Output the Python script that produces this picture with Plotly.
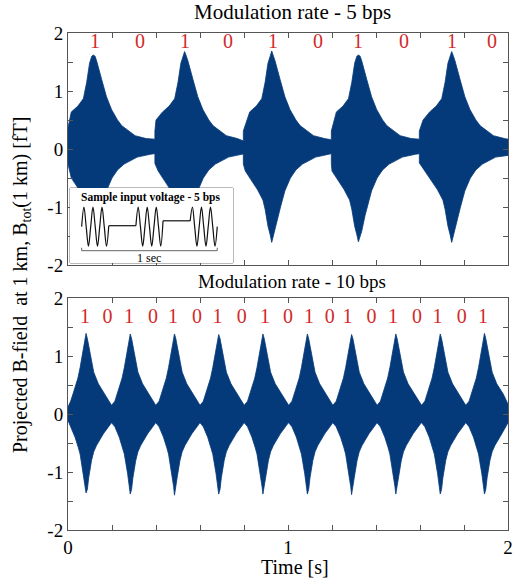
import plotly.graph_objects as go

BLUE = "#053a7a"
RED = "#d42a2a"
FONT = "Liberation Serif"

# ---------------- Top panel (5 bps) : envelope ----------------
TOP_START = [0.0, 0.395, 0.797, 1.197, 1.597]          # abrupt start of each "1" pulse
TOP_PEAK_T = [0.115, 0.530, 0.926, 1.320, 1.744]
TOP_PEAK_UP = [1.62, 1.68, 1.69, 1.62, 1.68]
TOP_PEAK_LO = [-1.60, -1.60, -1.61, -1.60, -1.61]
TOP_START_UP = [0.37, 0.31, 0.31, 0.31, 0.31]
TOP_START_LO = [-0.26, -0.25, -0.26, -0.25, -0.24]
TOP_TAIL_UP = [0.17, 0.14, 0.16, 0.17, 0.17]
TOP_TAIL_LO = [-0.08, -0.09, -0.08, -0.08, -0.11]
TOP_UP_OFF = [-0.13, -0.10, -0.07, -0.045, -0.03, -0.017, -0.007, 0.0, 0.008, 0.015,
              0.038, 0.06, 0.083, 0.11, 0.13, 0.19, 0.24]
TOP_UP_VAL = [0.50, 0.64, 0.74, 0.87, 1.15, 1.48, 1.60, None, 1.60, 1.52,
              1.20, 0.90, 0.68, 0.50, 0.40, 0.23, 0.18]
TOP_LO_OFF = [-0.12, -0.10, -0.065, -0.04, -0.03, -0.017, -0.007, 0.0, 0.008, 0.015,
              0.03, 0.04, 0.06, 0.085, 0.11, 0.14, 0.20, 0.26]
TOP_LO_VAL = [-0.38, -0.50, -0.70, -0.88, -1.04, -1.33, -1.48, None, -1.52, -1.42,
              -1.15, -1.00, -0.72, -0.50, -0.36, -0.26, -0.14, -0.09]
TOP_BITS_T = [0.123, 0.327, 0.532, 0.727, 0.932, 1.136, 1.318, 1.527, 1.745, 1.927]
TOP_BITS = ["1", "0", "1", "0", "1", "0", "1", "0", "1", "0"]

# ---------------- Bottom panel (10 bps) ----------------
BOT_PEAK_T = [0.082, 0.283, 0.484, 0.685, 0.886, 1.088, 1.289, 1.490, 1.692, 1.893]
BOT_PEAK_UP = [1.39, 1.38, 1.38, 1.37, 1.38, 1.38, 1.37, 1.38, 1.38, 1.39]
BOT_PEAK_LO = [-1.36, -1.38, -1.40, -1.38, -1.38, -1.38, -1.39, -1.38, -1.38, -1.38]
BOT_UP_OFF = [-0.085, -0.07, -0.058, -0.048, -0.037, -0.027, -0.018, -0.010, -0.004, 0.0,
              0.006, 0.015, 0.025, 0.035, 0.056, 0.086, 0.114]
BOT_UP_VAL = [0.15, 0.22, 0.36, 0.48, 0.62, 0.80, 1.00, 1.20, 1.33, None,
              1.30, 1.12, 0.88, 0.72, 0.52, 0.34, 0.16]
BOT_LO_OFF = [-0.085, -0.07, -0.05, -0.035, -0.027, -0.012, -0.004, 0.0,
              0.006, 0.012, 0.025, 0.035, 0.048, 0.079, 0.114]
BOT_LO_VAL = [-0.15, -0.22, -0.40, -0.58, -0.69, -1.03, -1.25, None,
              -1.30, -1.10, -0.80, -0.65, -0.54, -0.34, -0.16]
BOT_T0_UP, BOT_T0_LO = 0.12, -0.11
BOT_END_UP, BOT_END_LO = 0.17, -0.15
BOT_BITS_T = [0.077, 0.180, 0.277, 0.386, 0.477, 0.586, 0.680, 0.790, 0.895, 1.000,
              1.095, 1.190, 1.270, 1.380, 1.477, 1.586, 1.680, 1.790, 1.886]
BOT_BITS = ["1", "0"] * 9 + ["1"]

# ---------------- Inset: sample input voltage ----------------
INSET_BITS = [1, 0, 1, 0, 1]            # 0.2 s per bit
INSET_FLAT = [None, 0.05, None, 0.3, None]
INSET_CYCLE = [0, 1, 0, -1, 0, 1, 0, -1, 0, 1, 0, -1, 0]   # 3 carrier cycles per bit
BIT_LEN = 0.2

X_TICKS = [0, 0.2, 0.4, 0.6, 0.8, 1.0, 1.2, 1.4, 1.6, 1.8, 2.0]
X_TICKTEXT = ["0", "", "", "", "", "1", "", "", "", "", "2"]
Y_TICKS = [-2, -1.5, -1, -0.5, 0, 0.5, 1, 1.5, 2]
Y_TICKTEXT = ["-2", "", "-1", "", "0", "", "1", "", "2"]


def pulsed_envelope(starts, peaks, amps, start_vals, tails, offs, vals, t_end):
    xs, ys = [], []
    n = len(peaks)
    for k in range(n):
        s = starts[k]
        e = starts[k + 1] if k + 1 < n else t_end
        xs.append(s)
        ys.append(start_vals[k])
        for o, v in zip(offs, vals):
            t = peaks[k] + o
            if s < t < e:
                xs.append(t)
                ys.append(amps[k] if v is None else v)
        xs.append(e)
        ys.append(tails[k])
    return xs, ys


def cont_envelope(peaks, amps, offs, vals, v0, v_end, t_end):
    xs, ys = [0.0], [v0]
    for k in range(len(peaks)):
        for o, v in zip(offs, vals):
            t = peaks[k] + o
            if xs[-1] < t < t_end:
                xs.append(t)
                ys.append(amps[k] if v is None else v)
    xs.append(t_end)
    ys.append(v_end)
    return xs, ys


tux, tuy = pulsed_envelope(TOP_START, TOP_PEAK_T, TOP_PEAK_UP, TOP_START_UP, TOP_TAIL_UP,
                           TOP_UP_OFF, TOP_UP_VAL, 2.0)
tlx, tly = pulsed_envelope(TOP_START, TOP_PEAK_T, TOP_PEAK_LO, TOP_START_LO, TOP_TAIL_LO,
                           TOP_LO_OFF, TOP_LO_VAL, 2.0)
bux, buy = cont_envelope(BOT_PEAK_T, BOT_PEAK_UP, BOT_UP_OFF, BOT_UP_VAL, BOT_T0_UP, BOT_END_UP, 2.0)
blx, bly = cont_envelope(BOT_PEAK_T, BOT_PEAK_LO, BOT_LO_OFF, BOT_LO_VAL, BOT_T0_LO, BOT_END_LO, 2.0)

fig = go.Figure()
fig.add_trace(go.Scatter(x=tux + tlx[::-1], y=tuy + tly[::-1], fill="toself", mode="lines",
                         line=dict(color=BLUE, width=0.8), fillcolor=BLUE,
                         xaxis="x", yaxis="y", hoverinfo="skip"))
fig.add_trace(go.Scatter(x=bux + blx[::-1], y=buy + bly[::-1], fill="toself", mode="lines",
                         line=dict(color=BLUE, width=0.8), fillcolor=BLUE,
                         xaxis="x2", yaxis="y2", hoverinfo="skip"))
fig.add_trace(go.Scatter(x=TOP_BITS_T, y=[1.82] * len(TOP_BITS), text=TOP_BITS, mode="text",
                         textfont=dict(family=FONT, size=20, color=RED), xaxis="x", yaxis="y"))
fig.add_trace(go.Scatter(x=BOT_BITS_T, y=[1.66] * len(BOT_BITS), text=BOT_BITS, mode="text",
                         textfont=dict(family=FONT, size=20, color=RED), xaxis="x2", yaxis="y2"))

# inset waveform: sinusoidal bursts (spline) joined by flat segments (straight)
for b, bit in enumerate(INSET_BITS):
    t0 = b * BIT_LEN
    if bit:
        step = BIT_LEN / (len(INSET_CYCLE) - 1)
        bx = [t0 + j * step for j in range(len(INSET_CYCLE))]
        by = list(INSET_CYCLE)
        if b > 0:
            by[0] = INSET_FLAT[b - 1]
        if b + 1 < len(INSET_BITS):
            by[-1] = INSET_FLAT[b + 1]
        fig.add_trace(go.Scatter(x=bx, y=by, mode="lines",
                                 line=dict(color="#111", width=1.2, shape="spline", smoothing=1.0),
                                 xaxis="x3", yaxis="y3", hoverinfo="skip"))
    else:
        fig.add_trace(go.Scatter(x=[t0, t0 + BIT_LEN], y=[INSET_FLAT[b]] * 2, mode="lines",
                                 line=dict(color="#111", width=1.2),
                                 xaxis="x3", yaxis="y3", hoverinfo="skip"))
fig.add_trace(go.Scatter(x=[0, 0, 1, 1], y=[-1.08, -1.23, -1.23, -1.08], mode="lines",
                         line=dict(color="#666", width=1), xaxis="x3", yaxis="y3", hoverinfo="skip"))

# pixel geometry
W, H = 523, 584
PL, PR, PT, PB = 68, 508, 33, 530   # plot area in window pixels
ph = PB - PT
pw = PR - PL


def py(p):
    return (PB - p) / ph


def px(p):
    return (p - PL) / pw


ax_common = dict(showline=True, linecolor="#555", linewidth=1, mirror="ticks", ticks="inside",
                 ticklen=5, tickcolor="#555", showgrid=False, zeroline=False,
                 tickfont=dict(family=FONT, size=19, color="black"))

fig.update_layout(
    width=W, height=H,
    margin=dict(l=PL, r=W - PR, t=PT, b=H - PB, autoexpand=False),
    paper_bgcolor="white", plot_bgcolor="white", showlegend=False,
    xaxis=dict(domain=[0, 1], anchor="y", range=[0, 2], tickvals=X_TICKS, showticklabels=False, **ax_common),
    yaxis=dict(domain=[py(265), 1], anchor="x", range=[-2, 2], tickvals=Y_TICKS, ticktext=Y_TICKTEXT, **ax_common),
    xaxis2=dict(domain=[0, 1], anchor="y2", range=[0, 2], tickvals=X_TICKS, ticktext=X_TICKTEXT, **ax_common),
    yaxis2=dict(domain=[0, py(298)], anchor="x2", range=[-2, 2], tickvals=Y_TICKS, ticktext=Y_TICKTEXT, **ax_common),
    xaxis3=dict(domain=[px(70), px(233)], anchor="y3", range=[-0.086, 1.116], visible=False, fixedrange=True),
    yaxis3=dict(domain=[py(263), py(188)], anchor="x3", range=[-1.86, 1.98], visible=False, fixedrange=True),
)

fig.add_shape(type="rect", xref="x3 domain", yref="y3 domain", x0=0, x1=1, y0=0, y1=1,
              fillcolor="white", line=dict(color="#777", width=1), layer="below")

ann = [
    dict(text="Modulation rate - 5 bps", x=px(292), y=py(12), size=21),
    dict(text="Modulation rate - 10 bps", x=px(292), y=py(281), size=19),
    dict(text="Time [s]", x=px(295), y=py(567), size=20),
]
for a in ann:
    fig.add_annotation(text=a["text"], x=a["x"], y=a["y"], xref="paper", yref="paper",
                       showarrow=False, xanchor="center", yanchor="middle",
                       font=dict(family=FONT, size=a["size"], color="black"))
fig.add_annotation(text="Projected B-field&nbsp; at 1 km, B<sub>tot</sub>(1 km) [fT]",
                   x=px(21), y=py(285), xref="paper", yref="paper", showarrow=False,
                   textangle=-90, xanchor="center", yanchor="middle",
                   font=dict(family=FONT, size=20, color="black"))
fig.add_annotation(text="<b>Sample input voltage - 5 bps</b>", x=0.51, y=1.5, xref="x3", yref="y3",
                   showarrow=False, xanchor="center", yanchor="middle",
                   font=dict(family=FONT, size=11.5, color="black"))
fig.add_annotation(text="1 sec", x=0.5, y=-1.6, xref="x3", yref="y3",
                   showarrow=False, xanchor="center", yanchor="middle",
                   font=dict(family=FONT, size=12, color="black"))

fig.write_html("out.html", config={"displayModeBar": False},
               post_script="document.body.style.margin='0';document.body.style.overflow='hidden';")
